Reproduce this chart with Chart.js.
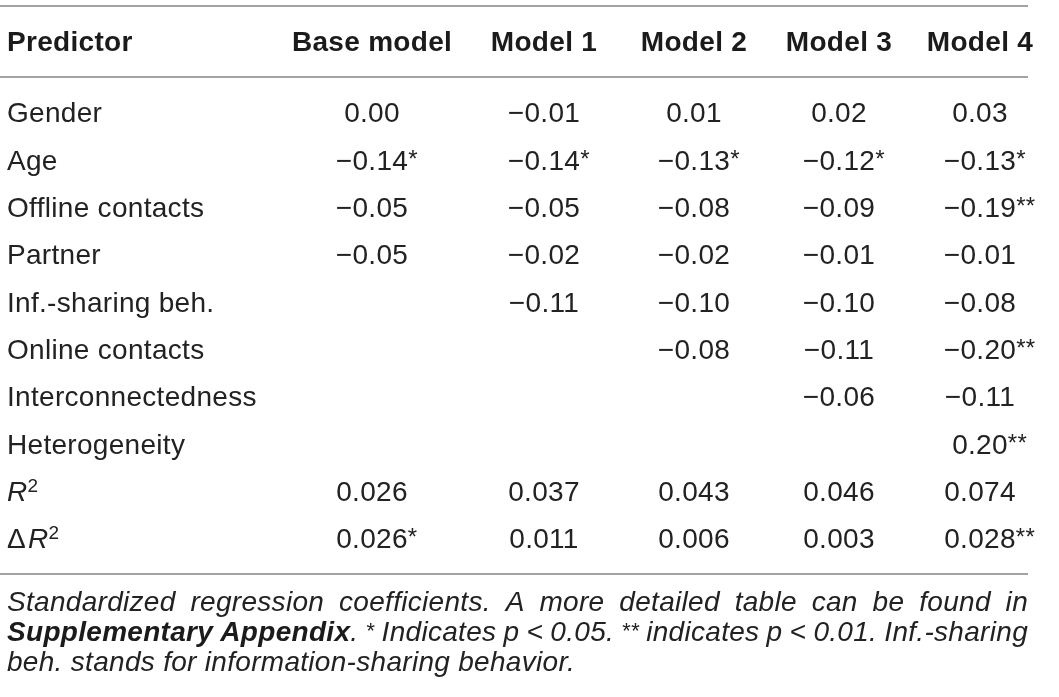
<!DOCTYPE html>
<html>
<head>
<meta charset="utf-8">
<title>Regression table</title>
<script src="https://cdn.jsdelivr.net/npm/chart.js@4.4.0/dist/chart.umd.min.js"></script>
<style>
  html, body { margin: 0; padding: 0; background: #fff; }
  canvas { display: block; }
</style>
</head>
<body>
<canvas id="tableChart" width="1059" height="697"></canvas>
<script>
// Data ----------------------------------------------------------------------->
const predictors = ['Gender', 'Age', 'Offline contacts', 'Partner', 'Inf.-sharing beh.',
  'Online contacts', 'Interconnectedness', 'Heterogeneity', 'R²', 'ΔR²'];
const models = ['Base model', 'Model 1', 'Model 2', 'Model 3', 'Model 4'];

// one value per predictor row, null = empty cell
const baseModel = [0.00, -0.14, -0.05, -0.05, null, null, null, null, 0.026, 0.026];
const model1 = [-0.01, -0.14, -0.05, -0.02, -0.11, null, null, null, 0.037, 0.011];
const model2 = [0.01, -0.13, -0.08, -0.02, -0.10, -0.08, null, null, 0.043, 0.006];
const model3 = [0.02, -0.12, -0.09, -0.01, -0.10, -0.11, -0.06, null, 0.046, 0.003];
const model4 = [0.03, -0.13, -0.19, -0.01, -0.08, -0.20, -0.11, 0.20, 0.074, 0.028];

// significance stars per cell
const sigBase = ['', '*', '', '', '', '', '', '', '', '*'];
const sig1 = ['', '*', '', '', '', '', '', '', '', ''];
const sig2 = ['', '*', '', '', '', '', '', '', '', ''];
const sig3 = ['', '*', '', '', '', '', '', '', '', ''];
const sig4 = ['', '*', '**', '', '', '**', '', '**', '', '**'];

// decimals shown per row
const decimals = [2, 2, 2, 2, 2, 2, 2, 2, 3, 3];

const headerLabel = 'Predictor';
const footLines = [
  [['i', 'Standardized regression coefficients. A more detailed table can be found in']],
  [['bi', 'Supplementary Appendix'], ['i', '. '], ['sup', '*'], ['i', ' Indicates p < 0.05. '],
   ['sup', '**'], ['i', ' indicates p < 0.01. Inf.-sharing']],
  [['i', 'beh. stands for information-sharing behavior.']]
];

// Layout --------------------------------------------------------------------->
const FONT = '"Liberation Sans", Arial, Helvetica, sans-serif';
const SIZE = 28;
const COL_X = [372, 544, 694, 839, 980];   // column centres (table units = px)
const LABEL_X = 7;
const RULE_RIGHT = 1028;
const TEXT = '#222';
const RULE = '#a3a3a3';

const allValues = [baseModel, model1, model2, model3, model4];
const allSig = [sigBase, sig1, sig2, sig3, sig4];

function fmt(v, d) {
  const s = Math.abs(v).toFixed(d);
  return v < 0 ? '\u2212' + s : s;
}

// datasets: one per model column, one point per filled cell
const datasets = models.map((m, j) => {
  const pts = [];
  allValues[j].forEach((v, i) => {
    if (v === null) return;
    pts.push({ x: COL_X[j], y: predictors[i], v: v, sig: allSig[j][i], dec: decimals[i] });
  });
  return { label: m, data: pts, pointRadius: 0, pointHoverRadius: 0 };
});

function setFont(ctx, style, size) {
  const st = style.indexOf('i') >= 0 ? 'italic ' : '';
  const wt = style.indexOf('b') >= 0 ? 'bold ' : '';
  ctx.font = st + wt + size + 'px ' + FONT;
}

// Table drawing plugin -------------------------------------------------------->
const tablePlugin = {
  id: 'tableText',
  afterDatasetsDraw(chart) {
    const ctx = chart.ctx;
    const yScale = chart.scales.y;
    const xScale = chart.scales.x;
    const rowH = yScale.getPixelForValue(1) - yScale.getPixelForValue(0);
    const firstRow = yScale.getPixelForValue(0);
    const lastRow = yScale.getPixelForValue(predictors.length - 1);
    const left = xScale.getPixelForValue(LABEL_X);
    const right = xScale.getPixelForValue(RULE_RIGHT);
    const base = SIZE * 0.32;

    ctx.save();
    ctx.letterSpacing = '0.3px';
    ctx.textBaseline = 'alphabetic';

    // rules
    ctx.strokeStyle = RULE;
    ctx.lineWidth = 2;
    [firstRow - rowH * 1.5 - 37, firstRow - rowH * 0.77, lastRow + rowH * 0.74].forEach(y => {
      ctx.beginPath();
      ctx.moveTo(0, Math.round(y));
      ctx.lineTo(right, Math.round(y));
      ctx.stroke();
    });

    // header
    const headY = firstRow - 71 + base;
    ctx.fillStyle = '#1b1b1b';
    setFont(ctx, 'b', SIZE);
    ctx.textAlign = 'left';
    ctx.fillText(headerLabel, left, headY);
    ctx.textAlign = 'center';
    models.forEach((m, j) => {
      ctx.fillText(m, xScale.getPixelForValue(COL_X[j]), headY);
    });

    // predictor labels
    ctx.fillStyle = TEXT;
    ctx.textAlign = 'left';
    predictors.forEach((p, i) => {
      const y = yScale.getPixelForValue(i) + base;
      if (p.endsWith('R²')) {
        let x = left;
        if (p.startsWith('Δ')) {
          setFont(ctx, '', SIZE);
          ctx.fillText('Δ', x, y);
          x += ctx.measureText('Δ').width + 2;
        }
        setFont(ctx, 'i', SIZE);
        ctx.fillText('R', x, y);
        x += ctx.measureText('R').width;
        setFont(ctx, '', 19);
        ctx.fillText('2', x, y - 9);
      } else {
        setFont(ctx, '', SIZE);
        ctx.fillText(p, left, y);
      }
    });

    // cell values from the dataset elements
    chart.data.datasets.forEach((ds, j) => {
      const meta = chart.getDatasetMeta(j);
      meta.data.forEach((el, k) => {
        const raw = ds.data[k];
        const txt = fmt(raw.v, raw.dec);
        const y = el.y + base;
        setFont(ctx, '', SIZE);
        ctx.textAlign = 'center';
        ctx.fillText(txt, el.x, y);
        if (raw.sig) {
          const w = ctx.measureText(txt).width;
          setFont(ctx, '', 24);
          ctx.textAlign = 'left';
          ctx.fillText(raw.sig, el.x + w / 2, y - 3);
        }
      });
    });

    // footnote
    const footTop = lastRow + rowH * 0.74 + 37;
    const lineGap = 30;
    const fSize = 28;
    footLines.forEach((segs, li) => {
      const words = [];
      let cur = [];
      segs.forEach(([style, text]) => {
        text.split(' ').forEach((part, k) => {
          if (k > 0 && cur.length) { words.push(cur); cur = []; }
          if (part) cur.push({ style, text: part });
        });
      });
      if (cur.length) words.push(cur);
      const measure = seg => {
        if (seg.style === 'sup') setFont(ctx, 'i', 22); else setFont(ctx, seg.style, fSize);
        return ctx.measureText(seg.text).width;
      };
      const widths = words.map(w => w.reduce((a, s) => a + measure(s), 0));
      const total = widths.reduce((a, b) => a + b, 0);
      setFont(ctx, 'i', fSize);
      let gap = ctx.measureText(' ').width;
      if (li < footLines.length - 1) gap = (right - left - total) / (words.length - 1);
      let x = left;
      const y = footTop + li * lineGap;
      ctx.textAlign = 'left';
      words.forEach(w => {
        w.forEach(seg => {
          const sw = measure(seg);
          ctx.fillStyle = seg.style.indexOf('b') >= 0 ? '#1b1b1b' : TEXT;
          ctx.fillText(seg.text, x, seg.style === 'sup' ? y - 3 : y);
          x += sw;
        });
        x += gap;
      });
    });
    ctx.restore();
  }
};

// Chart ---------------------------------------------------------------------->
const ctx = document.getElementById('tableChart').getContext('2d');
new Chart(ctx, {
  type: 'scatter',
  data: { datasets: datasets },
  options: {
    responsive: false,
    animation: false,
    layout: { padding: { top: 89.85, bottom: 134.15, left: 0, right: 0 } },
    scales: {
      x: { type: 'linear', min: 0, max: 1059, display: false },
      y: { type: 'category', labels: predictors, offset: true, display: false }
    },
    plugins: {
      legend: { display: false },
      tooltip: { enabled: false }
    }
  },
  plugins: [tablePlugin]
});
</script>
</body>
</html>
